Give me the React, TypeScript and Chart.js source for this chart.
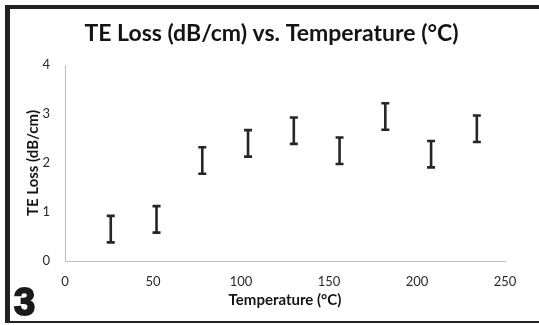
import React, { useEffect, useRef } from "react";
import { Chart, registerables } from "chart.js";

Chart.register(...registerables);

const temperatures = [26, 52, 78, 104, 130, 156, 182, 208, 234];
const lossMean = [0.65, 0.85, 2.05, 2.4, 2.66, 2.25, 2.95, 2.18, 2.7];
const lossErr = [0.27, 0.27, 0.27, 0.27, 0.27, 0.27, 0.27, 0.27, 0.27];
const xTicks = [0, 50, 100, 150, 200, 250];
const yTicks = [0, 1, 2, 3, 4];

const FONT = "Lato, 'Open Sans', sans-serif";

const errorBarPlugin = {
  id: "errorBars",
  afterDatasetsDraw(chart: any) {
    const { ctx, scales } = chart;
    const xs = scales.x;
    const ys = scales.y;
    ctx.save();
    ctx.strokeStyle = "#262626";
    ctx.lineWidth = 2.6;
    ctx.lineCap = "butt";
    const cap = 4;
    temperatures.forEach((t, i) => {
      const x = xs.getPixelForValue(t);
      const top = ys.getPixelForValue(lossMean[i] + lossErr[i]);
      const bot = ys.getPixelForValue(lossMean[i] - lossErr[i]);
      ctx.beginPath();
      ctx.moveTo(x, top);
      ctx.lineTo(x, bot);
      ctx.moveTo(x - cap, top);
      ctx.lineTo(x + cap, top);
      ctx.moveTo(x - cap, bot);
      ctx.lineTo(x + cap, bot);
      ctx.stroke();
    });
    ctx.restore();
  },
};

export default function App() {
  const ref = useRef<HTMLCanvasElement | null>(null);
  useEffect(() => {
    if (!ref.current) return;
    const chart = new Chart(ref.current, {
      type: "scatter",
      data: {
        datasets: [
          {
            label: "TE Loss",
            data: temperatures.map((t, i) => ({ x: t, y: lossMean[i] })),
            pointRadius: 0,
            showLine: false,
          },
        ],
      },
      options: {
        responsive: false,
        animation: false,
        devicePixelRatio: 1,
        layout: { padding: { left: 24, right: 20, top: 0, bottom: 16 } },
        plugins: {
          legend: { display: false },
          tooltip: { enabled: false },
          title: {
            display: true,
            text: "TE Loss (dB/cm) vs. Temperature (°C)",
            color: "#141414",
            font: { family: FONT, size: 23, weight: "bold" },
            padding: { top: 20.2, bottom: 17.2 },
          },
        },
        scales: {
          x: {
            type: "linear",
            min: 0,
            max: 250,
            afterBuildTicks: (s: any) => {
              s.ticks = xTicks.map((v) => ({ value: v }));
            },
            afterFit: (s: any) => {
              s.height = 48;
            },
            grid: { display: false, drawTicks: false },
            border: { display: true, color: "#bfbfbf", width: 1 },
            ticks: { padding: 13, color: "#2a2a2a", font: { family: FONT, size: 13 } },
            title: {
              display: true,
              text: "Temperature (°C)",
              color: "#141414",
              padding: 0,
              font: { family: FONT, size: 15, weight: "bold" },
            },
          },
          y: {
            type: "linear",
            min: 0,
            max: 4,
            afterBuildTicks: (s: any) => {
              s.ticks = yTicks.map((v) => ({ value: v }));
            },
            afterFit: (s: any) => {
              s.width = 41;
            },
            grid: { display: false, drawTicks: false },
            border: { display: true, color: "#bfbfbf", width: 1 },
            ticks: { padding: 15, color: "#2a2a2a", font: { family: FONT, size: 13 } },
            title: {
              display: true,
              text: "TE Loss (dB/cm)",
              color: "#141414",
              padding: 0,
              font: { family: FONT, size: 15, weight: "bold" },
            },
          },
          yR: {
            type: "linear",
            position: "right",
            display: true,
            min: 0,
            max: 4,
            afterFit: (s: any) => {
              s.width = 14;
            },
            grid: { display: false, drawTicks: false },
            border: { display: false },
            ticks: { display: false },
          },
        },
      },
      plugins: [errorBarPlugin],
    });
    return () => chart.destroy();
  }, []);

  return (
    <div
      style={{
        position: "fixed",
        left: 0,
        top: 0,
        width: 539,
        height: 325,
        overflow: "hidden",
        background: "#fff",
      }}
    >
      <canvas ref={ref} width={539} height={325} style={{ position: "absolute", left: 0, top: 0 }} />
      <div
        style={{
          position: "absolute",
          left: 5,
          top: 5,
          width: 700,
          height: 318,
          boxSizing: "border-box",
          borderLeft: "5px solid #222",
          borderTop: "4px solid #222",
          borderBottom: "2px solid #222",
          pointerEvents: "none",
        }}
      />
      <div
        style={{
          position: "absolute",
          left: 14,
          top: 280,
          fontFamily: "'Liberation Sans', Arial, sans-serif",
          fontWeight: 900,
          fontSize: 38,
          lineHeight: "44px",
          color: "#1a1a1a",
          WebkitTextStroke: "2px #1a1a1a",
        }}
      >
        3
      </div>
    </div>
  );
}
